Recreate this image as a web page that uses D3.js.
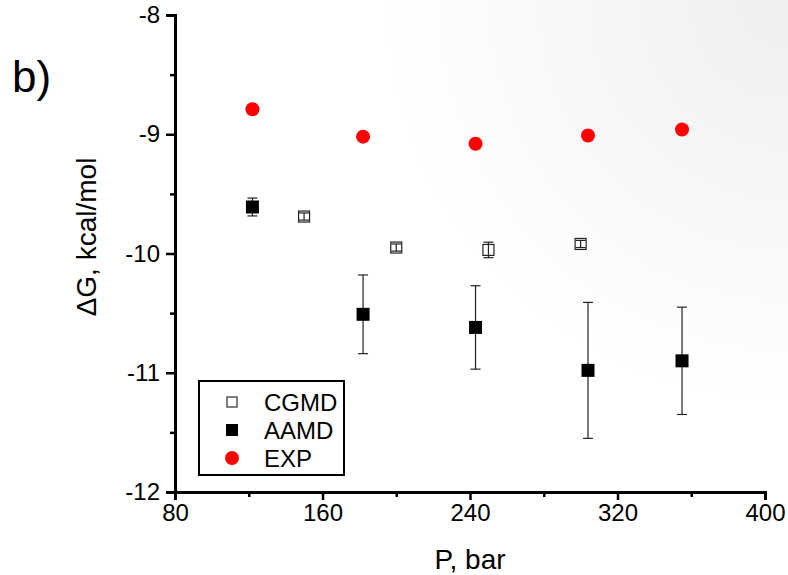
<!DOCTYPE html>
<html>
<head>
<meta charset="utf-8">
<script src="https://cdn.jsdelivr.net/npm/d3@7"></script>
<style>
  body { margin: 0; background: #fff; }
  svg { display: block; font-family: Arial, "Liberation Sans", sans-serif; }
</style>
</head>
<body>
<div id="chart"></div>
<script>
// Data
const expP = [122, 182, 243, 304, 355]
const expG = [-8.79, -9.02, -9.08, -9.01, -8.96]

const aamdP = [122, 182, 243, 304, 355]
const aamdG = [-9.61, -10.51, -10.62, -10.98, -10.90]
const aamdErr = [0.075, 0.33, 0.35, 0.57, 0.45]

const cgmdP = [150, 200, 250, 300]
const cgmdG = [-9.69, -9.95, -9.97, -9.92]
const cgmdErr = [0.03, 0.03, 0.065, 0.03]

const xTicks = [80, 160, 240, 320, 400]
const yTicks = [-8, -9, -10, -11, -12]
const legendItems = ['CGMD', 'AAMD', 'EXP']

// Dimensions
const width = 788, height = 575
const margin = { left: 175, right: 23, top: 15, bottom: 83 }

const svg = d3.select('#chart').append('svg')
  .attr('width', width)
  .attr('height', height)

// faint corner shading
const defs = svg.append('defs')
const grad = defs.append('radialGradient')
  .attr('id', 'corner')
  .attr('gradientUnits', 'userSpaceOnUse')
  .attr('cx', 788).attr('cy', 0).attr('r', 400)
grad.append('stop').attr('offset', '0%').attr('stop-color', '#efefef')
grad.append('stop').attr('offset', '100%').attr('stop-color', '#ffffff')
svg.append('rect').attr('width', width).attr('height', height).attr('fill', 'url(#corner)')

// scales
const x = d3.scaleLinear().domain([80, 400]).range([margin.left, width - margin.right])
const y = d3.scaleLinear().domain([-12, -8]).range([height - margin.bottom, margin.top])

// axes
svg.append('g')
  .attr('transform', `translate(0,${y(-12)})`)
  .call(d3.axisBottom(x).tickValues(xTicks).tickSize(8).tickPadding(4).tickFormat(d3.format('d')))
const xMinor = svg.append('g')
  .attr('transform', `translate(0,${y(-12)})`)
  .call(d3.axisBottom(x).tickValues([120, 200, 280, 360]).tickSize(5).tickFormat(''))
xMinor.select('.domain').remove()

svg.append('g')
  .attr('transform', `translate(${x(80)},0)`)
  .call(d3.axisLeft(y).tickValues(yTicks).tickSize(9).tickPadding(6).tickFormat(d => String(d)))
const yMinor = svg.append('g')
  .attr('transform', `translate(${x(80)},0)`)
  .call(d3.axisLeft(y).tickValues([-8.5, -9.5, -10.5, -11.5]).tickSize(5).tickFormat(''))
yMinor.select('.domain').remove()

svg.selectAll('.domain').attr('stroke', '#000').attr('stroke-width', 3)
svg.selectAll('.tick line').attr('stroke', '#000').attr('stroke-width', 2.5)
svg.selectAll('g').filter(function () { return this.getAttribute('font-size') }).attr('font-size', null).attr('font-family', null)
svg.selectAll('.tick text').style('font-size', '24px').attr('fill', '#000')

// labels
svg.append('text')
  .attr('x', x(240)).attr('y', 569)
  .attr('text-anchor', 'middle')
  .style('font-size', '28px')
  .text('P, bar')

svg.append('text')
  .attr('transform', `translate(96,237) rotate(-90)`)
  .attr('text-anchor', 'middle')
  .style('font-size', '28px')
  .text('ΔG, kcal/mol')

svg.append('text')
  .attr('x', 12).attr('y', 92)
  .style('font-size', '44px')
  .text('b)')

// error bars
function errorBars(P, G, E, color) {
  const g = svg.append('g').attr('stroke', color).attr('stroke-width', 1.2)
  P.forEach((p, i) => {
    const cx = x(p), top = y(G[i] + E[i]), bot = y(G[i] - E[i])
    g.append('line').attr('x1', cx).attr('x2', cx).attr('y1', top).attr('y2', bot)
    g.append('line').attr('x1', cx - 5).attr('x2', cx + 5).attr('y1', top).attr('y2', top)
    g.append('line').attr('x1', cx - 5).attr('x2', cx + 5).attr('y1', bot).attr('y2', bot)
  })
}
errorBars(aamdP, aamdG, aamdErr, '#222')
errorBars(cgmdP, cgmdG, cgmdErr, '#222')

// CGMD open squares
const cs = 11
svg.append('g').selectAll('rect')
  .data(cgmdP)
  .join('rect')
  .attr('x', d => x(d) - cs / 2)
  .attr('y', (d, i) => y(cgmdG[i]) - cs / 2)
  .attr('width', cs).attr('height', cs)
  .attr('fill', 'none')
  .attr('stroke', '#222')
  .attr('stroke-width', 1.2)

// AAMD filled squares
const as = 13
svg.append('g').selectAll('rect')
  .data(aamdP)
  .join('rect')
  .attr('x', d => x(d) - as / 2)
  .attr('y', (d, i) => y(aamdG[i]) - as / 2)
  .attr('width', as).attr('height', as)
  .attr('fill', '#000')

// EXP red circles
svg.append('g').selectAll('circle')
  .data(expP)
  .join('circle')
  .attr('cx', d => x(d))
  .attr('cy', (d, i) => y(expG[i]))
  .attr('r', 7)
  .attr('fill', '#ff0000')

// legend
const leg = svg.append('g')
leg.append('rect')
  .attr('x', 199).attr('y', 381)
  .attr('width', 145).attr('height', 94)
  .attr('fill', '#fff')
  .attr('stroke', '#000')
  .attr('stroke-width', 2)

legendItems.forEach((name, i) => {
  const ly = 402 + i * 28
  if (name === 'CGMD') {
    leg.append('rect').attr('x', 227).attr('y', ly - 5).attr('width', 10).attr('height', 10)
      .attr('fill', '#fff').attr('stroke', '#000').attr('stroke-width', 1)
  } else if (name === 'AAMD') {
    leg.append('rect').attr('x', 226).attr('y', ly - 6).attr('width', 12).attr('height', 12)
      .attr('fill', '#000')
  } else {
    leg.append('circle').attr('cx', 232).attr('cy', ly).attr('r', 7).attr('fill', '#ff0000')
  }
  leg.append('text')
    .attr('x', 264).attr('y', ly + 9)
    .style('font-size', '24px')
    .text(name)
})
</script>
</body>
</html>
